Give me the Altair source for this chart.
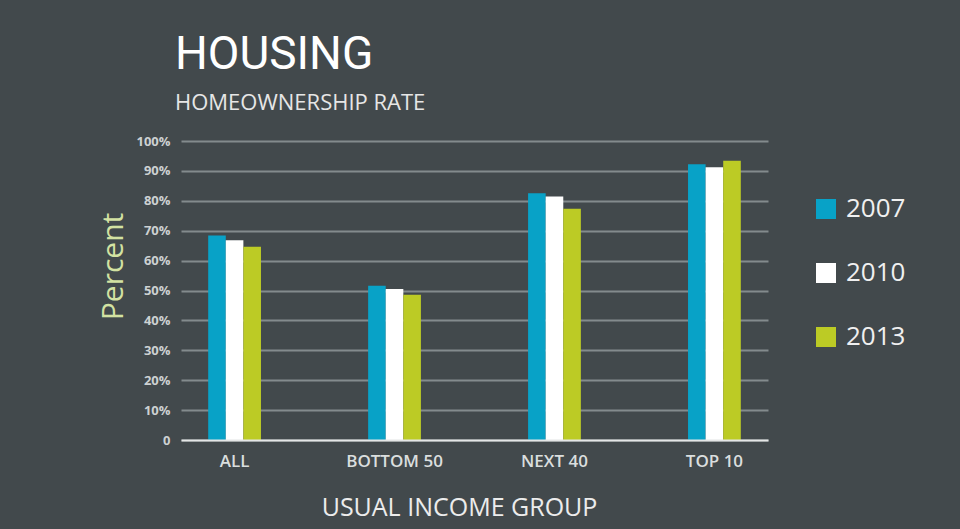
import altair as alt
import pandas as pd

groups = ["ALL", "BOTTOM 50", "NEXT 40", "TOP 10"]
years = ["2007", "2010", "2013"]
rate_2007 = [68.4, 51.6, 82.5, 92.2]
rate_2010 = [66.8, 50.5, 81.4, 91.2]
rate_2013 = [64.6, 48.6, 77.3, 93.4]
y_ticks = [0, 10, 20, 30, 40, 50, 60, 70, 80, 90, 100]
colors = ["#08a2c7", "#ffffff", "#bccb25"]

rows = []
for yr, vals in zip(years, [rate_2007, rate_2010, rate_2013]):
    for g, v in zip(groups, vals):
        rows.append({"group": g, "year": yr, "rate": v})
df = pd.DataFrame(rows)

bars = alt.Chart(df).mark_bar().encode(
    x=alt.X(
        "group:N",
        sort=groups,
        scale=alt.Scale(paddingInner=0.67, paddingOuter=0.17),
        axis=alt.Axis(
            title="USUAL INCOME GROUP",
            labelAngle=0,
            labelFont="Open Sans",
            labelFontSize=17,
            labelFontWeight=600,
            labelColor="#dadede",
            labelPadding=13,
            ticks=False,
            domainColor="#e4e6e6",
            domainWidth=2,
            grid=False,
            titleFont="Open Sans",
            titleFontSize=25,
            titleFontWeight=500,
            titleColor="#ececec",
            titlePadding=26,
            titleX=278,
            titleAlign="center",
            zindex=1,
        ),
    ),
    xOffset=alt.XOffset("year:N", sort=years, scale=alt.Scale(paddingInner=0, paddingOuter=0)),
    y=alt.Y(
        "rate:Q",
        scale=alt.Scale(domain=[0, 100]),
        axis=alt.Axis(
            values=y_ticks,
            labelExpr="datum.value == 0 ? '0' : datum.value + '%'",
            labelFont="Open Sans",
            labelFontSize=13,
            labelFontWeight="bold",
            labelColor="#cdd1d2",
            labelPadding=11,
            ticks=False,
            domain=False,
            grid=True,
            gridColor="#838b8d",
            gridWidth=2,
            title="Percent",
            titleFont="Open Sans",
            titleFontSize=30,
            titleFontWeight="normal",
            titleColor="#d3e2a2",
            titleAngle=-90,
            titleX=-68,
            titleY=125,
            titleAlign="center",
            titleBaseline="middle",
        ),
    ),
    color=alt.Color(
        "year:N",
        scale=alt.Scale(domain=years, range=colors),
        legend=alt.Legend(
            title=None,
            orient="none",
            legendX=632,
            legendY=55,
            direction="vertical",
            symbolType="square",
            symbolSize=400,
            symbolStrokeWidth=0,
            symbolOpacity=1,
            labelFont="Open Sans",
            labelFontSize=26,
            labelColor="#f0f0f0",
            labelOffset=7,
            rowPadding=38,
        ),
    ),
)

chart = bars.properties(
    width=587,
    height=299,
    autosize=alt.AutoSizeParams(type="none"),
    padding={"left": 181, "top": 141, "right": 192, "bottom": 89},
    background="#42494c",
    title=alt.TitleParams(
        text="HOUSING",
        subtitle="HOMEOWNERSHIP RATE",
        anchor="start",
        frame="group",
        font="Roboto",
        fontSize=46,
        fontWeight=400,
        color="#ffffff",
        subtitleFont="Open Sans",
        subtitleFontSize=22,
        subtitleColor="#e6e6e6",
        subtitlePadding=14,
        offset=20,
        dx=-6,
    ),
).configure_view(stroke=None)

chart.save("out.html", embed_options={"renderer": "svg", "actions": False})
